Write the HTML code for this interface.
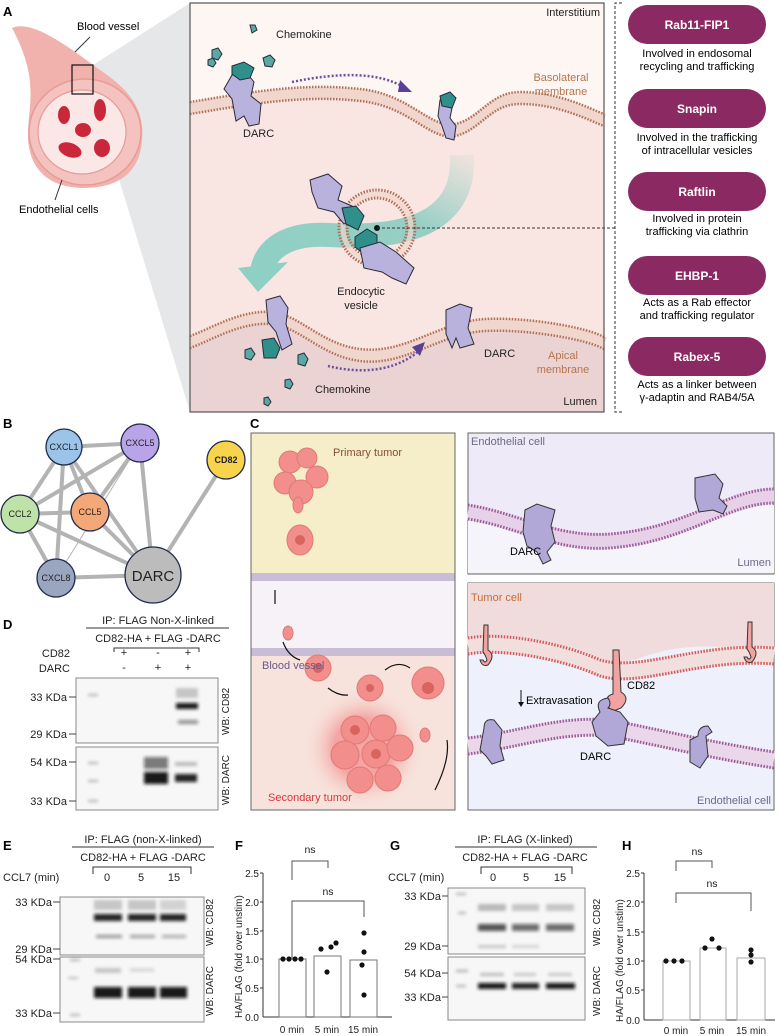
<!DOCTYPE html>
<html><head><meta charset="utf-8"><style>
body{margin:0;background:#fff}
svg{display:block;font-family:"Liberation Sans",sans-serif}
</style></head><body>
<svg width="778" height="1036" viewBox="0 0 778 1036" xmlns="http://www.w3.org/2000/svg">
<defs>
<filter id="bl" x="-20%" y="-100%" width="140%" height="300%"><feGaussianBlur stdDeviation="1.6"/></filter>
<radialGradient id="glow"><stop offset="0.5" stop-color="#f28b8b" stop-opacity="0.7"/><stop offset="1" stop-color="#f7dcd6" stop-opacity="0"/></radialGradient>
<linearGradient id="tg" x1="1" y1="0" x2="0" y2="1"><stop offset="0" stop-color="#7fc9bd" stop-opacity="0.1"/><stop offset="0.4" stop-color="#7fc9bd" stop-opacity="0.8"/><stop offset="1" stop-color="#8fd0c4"/></linearGradient>
</defs>

<!-- ============ PANEL A ============ -->
<text x="3" y="16" font-size="13" font-weight="bold">A</text>
<polygon points="93,65 190,3 190,412 93,94" fill="#e6e7e9"/>
<path d="M12,28 C30,20 60,40 100,70 C130,90 145,110 142,140 C140,175 115,188 84,188 C50,188 28,170 28,135 C28,105 40,80 12,28Z" fill="#f1b2ad"/>
<ellipse cx="85" cy="132" rx="56" ry="53" fill="#f4c3bf" stroke="#e79a96" stroke-width="1.5"/>
<ellipse cx="82" cy="132" rx="44" ry="42" fill="#fbe8e6" stroke="#e79a96" stroke-width="1.2"/>
<g fill="#c9283a">
<ellipse cx="64" cy="115" rx="6" ry="9"/><ellipse cx="100" cy="110" rx="6" ry="11"/><ellipse cx="83" cy="130" rx="8" ry="7"/>
<ellipse cx="70" cy="150" rx="12" ry="7" transform="rotate(20 70 150)"/><ellipse cx="102" cy="148" rx="8" ry="9"/>
</g>
<rect x="72" y="65" width="21" height="29" fill="none" stroke="#111" stroke-width="1.2"/>
<line x1="90" y1="37" x2="75" y2="52" stroke="#333"/>
<text x="77" y="30" font-size="11">Blood vessel</text>
<line x1="62" y1="180" x2="55" y2="200" stroke="#333"/>
<text x="19" y="213" font-size="11">Endothelial cells</text>

<rect x="190" y="3" width="414" height="409" fill="#fdf6f2"/>
<path d="M190,108 C240,100 300,88 360,95 C410,100 430,135 455,130 C480,125 490,98 520,98 C560,98 590,115 604,120 L604,343 C580,330 500,320 470,327 C430,335 400,360 360,355 C320,350 300,320 270,318 C240,316 210,335 190,342Z" fill="#f9e5e1"/>
<path d="M190,342 C210,335 240,316 270,318 C300,320 320,350 360,355 C400,360 430,335 470,327 C500,320 580,330 604,343 L604,412 L190,412Z" fill="#ead3d2"/>
<g fill="none">
<path d="M190,108 C240,100 300,88 360,95 C410,100 430,135 455,130 C480,125 490,98 520,98 C560,98 590,115 604,120" stroke="#f1d6cd" stroke-width="12"/>
<path d="M190,102 C240,94 300,82 360,89 C410,94 430,129 455,124 C480,119 490,92 520,92 C560,92 590,109 604,114" stroke="#b0715a" stroke-width="2.5" stroke-dasharray="1.5 1.5"/>
<path d="M190,114 C240,106 300,94 360,101 C410,106 430,141 455,136 C480,131 490,104 520,104 C560,104 590,121 604,126" stroke="#b0715a" stroke-width="2.5" stroke-dasharray="1.5 1.5"/>
<path d="M190,342 C210,335 240,316 270,318 C300,320 320,350 360,355 C400,360 430,335 470,327 C500,320 580,330 604,343" stroke="#f1d6cd" stroke-width="12"/>
<path d="M190,336 C210,329 240,310 270,312 C300,314 320,344 360,349 C400,354 430,329 470,321 C500,314 580,324 604,337" stroke="#b0715a" stroke-width="2.5" stroke-dasharray="1.5 1.5"/>
<path d="M190,348 C210,341 240,322 270,324 C300,326 320,356 360,361 C400,366 430,341 470,333 C500,326 580,336 604,349" stroke="#b0715a" stroke-width="2.5" stroke-dasharray="1.5 1.5"/>
</g>
<path d="M462,155 C465,215 420,240 330,235 C280,232 262,255 262,275" fill="none" stroke="url(#tg)" stroke-width="24"/>
<polygon points="238,268 288,262 258,292" fill="#8fd0c4"/>
<circle cx="377" cy="228" r="38" fill="none" stroke="#b0715a" stroke-width="3" stroke-dasharray="1.5 1.5"/>
<circle cx="377" cy="228" r="30" fill="none" stroke="#b0715a" stroke-width="3" stroke-dasharray="1.5 1.5"/>
<circle cx="377" cy="228" r="34" fill="none" stroke="#f1d6cd" stroke-width="5" opacity="0.7"/>
<circle cx="377" cy="228" r="3" fill="#111"/>
<line x1="377" y1="228" x2="615" y2="228" stroke="#333" stroke-dasharray="3 2"/>
<g stroke="#2a2a3a" stroke-width="1">
<path d="M232,75 l14,-3 l8,10 l-3,14 l10,8 l-2,20 l-10,2 l-5,-10 l-8,5 l-4,-22 l-8,-10z" fill="#b8b2dc"/>
<path d="M232,66 l12,-4 l10,6 l-4,10 l-10,2 l-8,-6z" fill="#2f8f8a"/>
<path d="M440,100 l8,-2 l4,10 l-2,10 l6,8 l-2,14 l-8,-2 l-4,-12 l-4,-10z" fill="#b8b2dc"/>
<path d="M440,96 l10,-4 l6,6 l-4,10 l-10,-2z" fill="#2f8f8a"/>
<path d="M310,180 l18,-6 l14,12 l-4,14 l14,6 l2,12 l-10,6 l-10,-12 l-16,-4 l-6,-16z" fill="#b8b2dc"/>
<path d="M342,208 l14,-2 l8,10 l-6,14 l-12,-6z" fill="#2f8f8a"/>
<path d="M355,237 l12,-8 l10,6 l0,12 l-14,6 l-8,-6z" fill="#2f8f8a"/>
<path d="M360,248 l20,-6 l16,10 l18,16 l-8,16 l-14,-6 l-10,-6 l-18,-4z" fill="#b8b2dc"/>
<path d="M266,300 l14,-4 l8,12 l-2,16 l6,20 l-10,6 l-6,-18 l-8,-10z" fill="#b8b2dc"/>
<path d="M262,340 l12,-2 l6,10 l-4,10 l-12,0z" fill="#2f8f8a"/>
<path d="M446,310 l14,-6 l12,4 l-4,20 l6,16 l-14,4 l-4,-10 l-4,10 l-6,-14z" fill="#b8b2dc"/>
<path d="M212,50 l6,-2 l4,6 l-4,6 l-6,-2z M208,60 l5,-2 l3,5 l-3,4 l-5,-2z M263,58 l7,-3 l5,5 l-3,7 l-7,-1z M250,25 l5,0 l2,5 l-5,3z" fill="#5aa8a3"/>
<path d="M245,350 l6,-2 l4,6 l-4,6 l-6,-2z M298,355 l6,-2 l4,6 l-3,7 l-7,-2z M285,380 l5,-1 l3,5 l-3,5 l-5,-2z M264,398 l4,-1 l3,5 l-3,4 l-4,-2z" fill="#5aa8a3"/>
</g>
<path d="M292,82 C340,72 380,72 405,88" fill="none" stroke="#6b4fa0" stroke-width="2.5" stroke-dasharray="2 2"/>
<polygon points="400,80 412,92 398,92" fill="#5a3f98"/>
<path d="M328,366 C360,374 395,372 420,350" fill="none" stroke="#6b4fa0" stroke-width="2.5" stroke-dasharray="2 2"/>
<polygon points="412,347 425,342 420,356" fill="#5a3f98"/>
<g font-size="11" fill="#222">
<text x="600" y="16" text-anchor="end">Interstitium</text>
<text x="276" y="38">Chemokine</text>
<text x="243" y="137">DARC</text>
<text x="561" y="81" fill="#b6744f" text-anchor="middle">Basolateral</text>
<text x="561" y="95" fill="#b6744f" text-anchor="middle">membrane</text>
<text x="361" y="295" text-anchor="middle">Endocytic</text>
<text x="361" y="309" text-anchor="middle">vesicle</text>
<text x="484" y="357">DARC</text>
<text x="563" y="359" fill="#b6744f" text-anchor="middle">Apical</text>
<text x="563" y="373" fill="#b6744f" text-anchor="middle">membrane</text>
<text x="315" y="393">Chemokine</text>
<text x="597" y="405" text-anchor="end">Lumen</text>
</g>
<rect x="190" y="3" width="414" height="409" fill="none" stroke="#555" stroke-width="1.2"/>
<path d="M622,3 L615,3 L615,412 L622,412" fill="none" stroke="#333" stroke-dasharray="3 2"/>
<g font-size="11" text-anchor="middle">
<rect x="628" y="5" width="138" height="39" rx="19.5" fill="#8b2a62"/>
<text x="697" y="29" fill="#fff" font-weight="bold" font-size="12">Rab11-FIP1</text>
<text x="697" y="57">Involved in endosomal</text><text x="697" y="70">recycling and trafficking</text>
<rect x="628" y="89" width="138" height="39" rx="19.5" fill="#8b2a62"/>
<text x="697" y="113" fill="#fff" font-weight="bold" font-size="12">Snapin</text>
<text x="697" y="141">Involved in the trafficking</text><text x="697" y="154">of intracellular vesicles</text>
<rect x="628" y="172" width="138" height="39" rx="19.5" fill="#8b2a62"/>
<text x="697" y="196" fill="#fff" font-weight="bold" font-size="12">Raftlin</text>
<text x="697" y="222">Involved in protein</text><text x="697" y="235">trafficking via clathrin</text>
<rect x="628" y="256" width="138" height="39" rx="19.5" fill="#8b2a62"/>
<text x="697" y="280" fill="#fff" font-weight="bold" font-size="12">EHBP-1</text>
<text x="697" y="306">Acts as a Rab effector</text><text x="697" y="319">and trafficking regulator</text>
<rect x="628" y="337" width="138" height="39" rx="19.5" fill="#8b2a62"/>
<text x="697" y="361" fill="#fff" font-weight="bold" font-size="12">Rabex-5</text>
<text x="697" y="388">Acts as a linker between</text><text x="697" y="401">γ-adaptin and RAB4/5A</text>
</g>

<!-- ============ PANEL B ============ -->
<text x="3" y="428" font-size="13" font-weight="bold">B</text>
<g stroke="#b3b3b3" stroke-width="4">
<line x1="64" y1="447" x2="140" y2="443"/><line x1="64" y1="447" x2="20" y2="514"/><line x1="64" y1="447" x2="56" y2="578"/>
<line x1="64" y1="447" x2="153" y2="575"/><line x1="64" y1="447" x2="90" y2="512"/><line x1="140" y1="443" x2="20" y2="514"/>
<line x1="140" y1="443" x2="153" y2="575"/><line x1="140" y1="443" x2="90" y2="512"/><line x1="20" y1="514" x2="90" y2="512"/>
<line x1="20" y1="514" x2="153" y2="575"/><line x1="20" y1="514" x2="56" y2="578"/><line x1="90" y1="512" x2="153" y2="575"/>
<line x1="56" y1="578" x2="153" y2="575"/><line x1="226" y1="460" x2="153" y2="575"/>
<line x1="140" y1="443" x2="56" y2="578" stroke-width="1"/>
</g>
<g stroke="#1f2a4a" stroke-width="1.3">
<circle cx="64" cy="447" r="18" fill="#9cc4e8"/><circle cx="140" cy="443" r="19" fill="#b8a4e6"/>
<circle cx="226" cy="460" r="19" fill="#f8d44c"/><circle cx="20" cy="514" r="19" fill="#bfe2a8"/>
<circle cx="90" cy="512" r="19" fill="#f4a877"/><circle cx="56" cy="578" r="19" fill="#9aa6c0"/>
<circle cx="153" cy="575" r="28" fill="#bcbcbc"/>
</g>
<g font-size="9" text-anchor="middle" fill="#222">
<text x="64" y="450">CXCL1</text><text x="140" y="446">CXCL5</text><text x="226" y="463" font-weight="bold">CD82</text>
<text x="20" y="517">CCL2</text><text x="90" y="515">CCL5</text><text x="56" y="581">CXCL8</text>
<text x="153" y="581" font-size="15">DARC</text>
</g>

<!-- ============ PANEL C ============ -->
<text x="250" y="428" font-size="13" font-weight="bold">C</text>
<rect x="251" y="433" width="204" height="140" fill="#f6eec9"/>
<rect x="251" y="573" width="204" height="82" fill="#f6f2f8"/>
<rect x="251" y="655" width="204" height="155" fill="#f7e3dc"/>
<rect x="251" y="573" width="204" height="8" fill="#c9bdd6"/>
<rect x="251" y="648" width="204" height="8" fill="#c9bdd6"/>
<circle cx="364" cy="748" r="60" fill="url(#glow)"/>
<g fill="#f28f8c" stroke="#e27875" stroke-width="1">
<circle cx="290" cy="462" r="11"/><circle cx="307" cy="458" r="10"/><circle cx="317" cy="477" r="11"/><circle cx="285" cy="483" r="11"/><circle cx="301" cy="492" r="12"/>
<ellipse cx="300" cy="540" rx="13" ry="15"/><circle cx="318" cy="668" r="13"/><circle cx="370" cy="688" r="13"/><circle cx="428" cy="683" r="16"/>
<circle cx="355" cy="730" r="14"/><circle cx="383" cy="728" r="13"/><circle cx="345" cy="755" r="14"/><circle cx="376" cy="754" r="14"/><circle cx="400" cy="748" r="13"/><circle cx="360" cy="780" r="13"/><circle cx="388" cy="778" r="13"/>
<ellipse cx="298" cy="505" rx="5" ry="8"/><ellipse cx="288" cy="633" rx="5" ry="7"/><ellipse cx="425" cy="735" rx="5" ry="7"/>
</g>
<g fill="#d9635f"><circle cx="300" cy="540" r="5"/><circle cx="318" cy="668" r="5"/><circle cx="370" cy="688" r="4"/><circle cx="428" cy="688" r="6"/><circle cx="355" cy="730" r="5"/><circle cx="376" cy="754" r="5"/></g>
<g fill="none" stroke="#111" stroke-width="1.2">
<path d="M275,590 l0,14"/><path d="M283,642 Q288,656 300,660"/><path d="M328,688 Q338,696 348,695"/><path d="M385,670 Q398,660 410,668"/><path d="M447,740 Q450,760 435,790"/>
</g>
<g font-size="11">
<text x="333" y="456" fill="#8a4a3a">Primary tumor</text>
<text x="262" y="669" fill="#6a5a8a">Blood vessel</text>
<text x="268" y="801" fill="#d9363a">Secondary tumor</text>
</g>
<rect x="251" y="433" width="204" height="377" fill="none" stroke="#666" stroke-width="1"/>

<rect x="468" y="433" width="306" height="141" fill="#efeaf7" stroke="#666"/>
<path d="M468,520 C520,528 560,555 620,548 C690,540 730,505 774,505 L774,573 L468,573Z" fill="#f6f4fb"/>
<path d="M468,512 C520,520 560,548 620,540 C690,532 730,496 774,496" fill="none" stroke="#e7d1e9" stroke-width="16"/>
<path d="M468,505 C520,513 560,541 620,533 C690,525 730,489 774,489" fill="none" stroke="#9a5a98" stroke-width="3" stroke-dasharray="1.5 1.5"/>
<path d="M468,519 C520,527 560,555 620,547 C690,539 730,503 774,503" fill="none" stroke="#9a5a98" stroke-width="3" stroke-dasharray="1.5 1.5"/>
<g fill="#b1a8d8" stroke="#333">
<path d="M525,510 l12,-6 l18,6 l-4,16 l4,16 l-8,10 l4,8 l-8,4 l-6,-12 l-10,-6 l-4,-14z"/>
<path d="M695,478 l20,-4 l8,10 l-4,14 l8,8 l-4,8 l-10,-4 l-14,2 l-4,-14z"/>
</g>
<text x="471" y="445" font-size="11" fill="#6a6a8a">Endothelial cell</text>
<text x="510" y="555" font-size="11">DARC</text>
<text x="771" y="566" font-size="11" fill="#6a6a8a" text-anchor="end">Lumen</text>

<rect x="468" y="583" width="306" height="227" fill="#eef0fb" stroke="#666"/>
<path d="M468,583 L774,583 L774,650 C720,648 690,640 640,658 C600,672 560,650 520,642 C500,640 480,640 468,640Z" fill="#f0dcdc"/>
<path d="M468,646 C500,640 560,650 600,668 C640,680 700,650 774,656" fill="none" stroke="#f3dede" stroke-width="18"/>
<path d="M468,638 C500,632 560,642 600,660 C640,672 700,642 774,648" fill="none" stroke="#d25a5a" stroke-width="3" stroke-dasharray="1.5 1.5"/>
<path d="M468,654 C500,648 560,658 600,676 C640,688 700,658 774,664" fill="none" stroke="#d25a5a" stroke-width="3" stroke-dasharray="1.5 1.5"/>
<path d="M468,746 C520,740 570,720 620,730 C670,740 710,750 774,760" fill="none" stroke="#ead8ea" stroke-width="18"/>
<path d="M468,738 C520,732 570,712 620,722 C670,732 710,742 774,752" fill="none" stroke="#9a5a98" stroke-width="3" stroke-dasharray="1.5 1.5"/>
<path d="M468,754 C520,748 570,728 620,738 C670,748 710,758 774,768" fill="none" stroke="#9a5a98" stroke-width="3" stroke-dasharray="1.5 1.5"/>
<g fill="#f0a3a0" stroke="#333">
<path d="M484,625 l4,0 l0,25 q8,5 0,15 q-6,2 -8,-5 l3,0 q2,4 4,0 q-2,-6 -4,-8z"/>
<path d="M748,622 l4,0 l0,25 q8,5 0,15 q-6,2 -8,-5 l3,0 q2,4 4,0 q-2,-6 -4,-8z"/>
<path d="M613,650 l6,0 l2,42 q10,6 0,16 l-10,4 l-4,-8 q-2,-8 6,-10z"/>
</g>
<g fill="#b1a8d8" stroke="#333">
<path d="M600,712 q-6,-12 8,-14 q4,6 0,10 l12,4 l8,10 l-4,22 l-16,2 l-12,-10 l-4,-14z"/>
<path d="M484,728 q0,-10 10,-8 l8,10 l-2,16 l4,14 l-12,4 l-6,-8 l-6,-6z"/>
<path d="M690,740 l8,-4 q0,-10 10,-10 l4,6 l-6,4 l2,20 l-8,12 l-10,-6z"/>
</g>
<text x="471" y="601" font-size="11" fill="#c66b3a">Tumor cell</text>
<text x="627" y="689" font-size="11">CD82</text>
<path d="M521,690 l0,14" stroke="#111"/><polygon points="518,702 524,702 521,707" fill="#111"/>
<text x="526" y="704" font-size="11">Extravasation</text>
<text x="580" y="760" font-size="11">DARC</text>
<text x="771" y="804" font-size="11" fill="#6a6a8a" text-anchor="end">Endothelial cell</text>

<!-- ============ PANEL D ============ -->
<text x="3" y="629" font-size="13" font-weight="bold">D</text>
<g font-size="11" fill="#222">
<text x="158" y="624" text-anchor="middle">IP: FLAG Non-X-linked</text>
<line x1="86" y1="628" x2="229" y2="628" stroke="#333"/>
<text x="158" y="642" text-anchor="middle">CD82-HA + FLAG -DARC</text>
<path d="M114,652 l0,-4 l85,0 l0,4" fill="none" stroke="#333"/>
<text x="70" y="657" text-anchor="end">CD82</text><text x="70" y="672" text-anchor="end">DARC</text>
<g text-anchor="middle"><text x="124" y="656">+</text><text x="158" y="656">-</text><text x="188" y="656">+</text>
<text x="124" y="671">-</text><text x="158" y="671">+</text><text x="188" y="671">+</text></g>
<text x="67" y="701" text-anchor="end">33 KDa</text><text x="67" y="738" text-anchor="end">29 KDa</text>
<text x="67" y="766" text-anchor="end">54 KDa</text><text x="67" y="805" text-anchor="end">33 KDa</text>
<text transform="translate(229,735) rotate(-90)" font-size="10">WB: CD82</text>
<text transform="translate(229,805) rotate(-90)" font-size="10">WB: DARC</text>
</g>
<rect x="76" y="678" width="142" height="65" fill="#f7f7f7" stroke="#888"/>
<rect x="76" y="747" width="142" height="63" fill="#f7f7f7" stroke="#888"/>
<g stroke="#444" stroke-width="1"><line x1="69" y1="697" x2="76" y2="697"/><line x1="69" y1="734" x2="76" y2="734"/><line x1="69" y1="762" x2="76" y2="762"/><line x1="69" y1="801" x2="76" y2="801"/></g>
<g filter="url(#bl)" fill="#111">
<rect x="176" y="703" width="22" height="6" opacity="0.95"/><rect x="176" y="688" width="22" height="10" opacity="0.2"/><rect x="178" y="720" width="20" height="4" opacity="0.45"/>
<rect x="144" y="772" width="24" height="12" opacity="0.95"/><rect x="144" y="757" width="24" height="12" opacity="0.55"/>
<rect x="175" y="774" width="22" height="8" opacity="0.9"/><rect x="175" y="762" width="22" height="4" opacity="0.25"/>
<rect x="88" y="694" width="10" height="2" opacity="0.3"/><rect x="88" y="762" width="10" height="2" opacity="0.3"/><rect x="88" y="780" width="10" height="2" opacity="0.3"/><rect x="88" y="800" width="10" height="2" opacity="0.3"/>
</g>

<!-- ============ PANEL E ============ -->
<text x="3" y="850" font-size="13" font-weight="bold">E</text>
<g font-size="11" fill="#222">
<text x="143" y="843" text-anchor="middle">IP: FLAG (non-X-linked)</text>
<line x1="72" y1="847" x2="214" y2="847" stroke="#333"/>
<text x="143" y="861" text-anchor="middle">CD82-HA + FLAG -DARC</text>
<path d="M93,874 l0,-7 l98,0 l0,7" fill="none" stroke="#333"/>
<text x="3" y="881">CCL7 (min)</text>
<g text-anchor="middle"><text x="107" y="881">0</text><text x="141" y="881">5</text><text x="174" y="881">15</text></g>
<text x="52" y="906" text-anchor="end">33 KDa</text><text x="52" y="953" text-anchor="end">29 KDa</text>
<text x="52" y="963" text-anchor="end">54 KDa</text><text x="52" y="1017" text-anchor="end">33 KDa</text>
<text transform="translate(213,946) rotate(-90)" font-size="10">WB: CD82</text>
<text transform="translate(213,1016) rotate(-90)" font-size="10">WB: DARC</text>
</g>
<rect x="60" y="897" width="144" height="58" fill="#f7f7f7" stroke="#888"/>
<rect x="60" y="957" width="144" height="65" fill="#f7f7f7" stroke="#888"/>
<g stroke="#444"><line x1="53" y1="902" x2="60" y2="902"/><line x1="53" y1="949" x2="60" y2="949"/><line x1="53" y1="959" x2="60" y2="959"/><line x1="53" y1="1013" x2="60" y2="1013"/></g>
<g filter="url(#bl)" fill="#111">
<rect x="94" y="914" width="28" height="7" opacity="0.9"/><rect x="128" y="914" width="28" height="7" opacity="0.9"/><rect x="160" y="914" width="26" height="7" opacity="0.9"/>
<rect x="94" y="900" width="28" height="10" opacity="0.2"/><rect x="128" y="900" width="28" height="10" opacity="0.2"/><rect x="160" y="900" width="26" height="10" opacity="0.15"/>
<rect x="96" y="935" width="26" height="3" opacity="0.45"/><rect x="130" y="935" width="25" height="3" opacity="0.4"/><rect x="162" y="935" width="24" height="3" opacity="0.35"/>
<rect x="94" y="987" width="28" height="11" opacity="0.95"/><rect x="128" y="987" width="28" height="11" opacity="0.95"/><rect x="160" y="987" width="27" height="11" opacity="0.95"/>
<rect x="95" y="968" width="26" height="5" opacity="0.2"/><rect x="130" y="968" width="24" height="4" opacity="0.12"/>
<rect x="70" y="959" width="10" height="2" opacity="0.3"/><rect x="68" y="977" width="10" height="2" opacity="0.25"/><rect x="70" y="1014" width="10" height="2" opacity="0.3"/>
</g>

<!-- ============ PANEL F ============ -->
<text x="235" y="850" font-size="13" font-weight="bold">F</text>
<g font-size="10" fill="#222">
<line x1="263" y1="873" x2="263" y2="1017" stroke="#333"/><line x1="263" y1="1017" x2="392" y2="1017" stroke="#333"/>
<g text-anchor="end"><text x="259" y="877">2.5</text><text x="259" y="906">2.0</text><text x="259" y="935">1.5</text><text x="259" y="963">1.0</text><text x="259" y="992">0.5</text><text x="259" y="1021">0.0</text></g>
<g stroke="#333"><line x1="260" y1="873" x2="263" y2="873"/><line x1="260" y1="902" x2="263" y2="902"/><line x1="260" y1="931" x2="263" y2="931"/><line x1="260" y1="959" x2="263" y2="959"/><line x1="260" y1="988" x2="263" y2="988"/></g>
<text transform="translate(242,1018) rotate(-90)" font-size="10">HA/FLAG (fold over unstim)</text>
<g fill="#fff" stroke="#777"><rect x="279" y="959" width="27" height="58"/><rect x="314" y="956" width="27" height="61"/><rect x="350" y="960" width="27" height="57"/></g>
<g fill="#111"><circle cx="283" cy="959" r="2.6"/><circle cx="289" cy="959" r="2.6"/><circle cx="295" cy="959" r="2.6"/><circle cx="301" cy="959" r="2.6"/>
<circle cx="321" cy="949" r="2.6"/><circle cx="331" cy="947" r="2.6"/><circle cx="336" cy="943" r="2.6"/><circle cx="327" cy="972" r="2.6"/>
<circle cx="364" cy="933" r="2.6"/><circle cx="364" cy="952" r="2.6"/><circle cx="362" cy="965" r="2.6"/><circle cx="364" cy="995" r="2.6"/></g>
<path d="M292,880 l0,-19 l36,0 l0,7 M292,930 l0,-29 l72,0 l0,16" fill="none" stroke="#555"/>
<path d="M292,958 l0,-30" fill="none" stroke="#555"/>
<text x="310" y="853" text-anchor="middle" font-size="10.5">ns</text><text x="328" y="895" text-anchor="middle" font-size="10.5">ns</text>
<g text-anchor="middle"><text x="292" y="1033">0 min</text><text x="327" y="1033">5 min</text><text x="363" y="1033">15 min</text></g>
</g>

<!-- ============ PANEL G ============ -->
<text x="390" y="850" font-size="13" font-weight="bold">G</text>
<g font-size="11" fill="#222">
<text x="525" y="843" text-anchor="middle">IP: FLAG (X-linked)</text>
<line x1="455" y1="847" x2="597" y2="847" stroke="#333"/>
<text x="525" y="861" text-anchor="middle">CD82-HA + FLAG -DARC</text>
<path d="M481,874 l0,-7 l91,0 l0,7" fill="none" stroke="#333"/>
<text x="388" y="881">CCL7 (min)</text>
<g text-anchor="middle"><text x="493" y="881">0</text><text x="526" y="881">5</text><text x="560" y="881">15</text></g>
<text x="441" y="900" text-anchor="end">33 KDa</text><text x="441" y="950" text-anchor="end">29 KDa</text>
<text x="441" y="977" text-anchor="end">54 KDa</text><text x="441" y="1001" text-anchor="end">33 KDa</text>
<text transform="translate(600,946) rotate(-90)" font-size="10">WB: CD82</text>
<text transform="translate(600,1016) rotate(-90)" font-size="10">WB: DARC</text>
</g>
<rect x="448" y="888" width="137" height="66" fill="#f7f7f7" stroke="#888"/>
<rect x="448" y="957" width="137" height="63" fill="#f7f7f7" stroke="#888"/>
<g stroke="#444"><line x1="442" y1="896" x2="448" y2="896"/><line x1="442" y1="946" x2="448" y2="946"/><line x1="442" y1="973" x2="448" y2="973"/><line x1="442" y1="997" x2="448" y2="997"/></g>
<g filter="url(#bl)" fill="#111">
<rect x="478" y="924" width="28" height="7" opacity="0.7"/><rect x="512" y="924" width="27" height="7" opacity="0.6"/><rect x="546" y="924" width="28" height="7" opacity="0.6"/>
<rect x="478" y="904" width="28" height="7" opacity="0.25"/><rect x="512" y="904" width="27" height="7" opacity="0.2"/><rect x="546" y="904" width="28" height="7" opacity="0.2"/>
<rect x="478" y="945" width="28" height="3" opacity="0.2"/><rect x="512" y="945" width="27" height="3" opacity="0.15"/>
<rect x="478" y="983" width="28" height="6" opacity="0.95"/><rect x="512" y="983" width="27" height="6" opacity="0.9"/><rect x="546" y="983" width="29" height="6" opacity="0.95"/>
<rect x="480" y="973" width="24" height="3" opacity="0.25"/><rect x="514" y="973" width="22" height="3" opacity="0.2"/><rect x="548" y="973" width="24" height="3" opacity="0.2"/>
<rect x="456" y="893" width="10" height="2" opacity="0.3"/><rect x="458" y="912" width="8" height="2" opacity="0.3"/><rect x="456" y="970" width="12" height="2" opacity="0.35"/><rect x="456" y="985" width="10" height="2" opacity="0.3"/>
</g>

<!-- ============ PANEL H ============ -->
<text x="622" y="850" font-size="13" font-weight="bold">H</text>
<g font-size="10" fill="#222">
<line x1="644" y1="873" x2="644" y2="1020" stroke="#333"/><line x1="644" y1="1020" x2="775" y2="1020" stroke="#333"/>
<g text-anchor="end"><text x="640" y="877">2.5</text><text x="640" y="907">2.0</text><text x="640" y="936">1.5</text><text x="640" y="965">1.0</text><text x="640" y="994">0.5</text><text x="640" y="1024">0.0</text></g>
<g stroke="#333"><line x1="641" y1="873" x2="644" y2="873"/><line x1="641" y1="902" x2="644" y2="902"/><line x1="641" y1="932" x2="644" y2="932"/><line x1="641" y1="961" x2="644" y2="961"/><line x1="641" y1="990" x2="644" y2="990"/></g>
<text transform="translate(623,1022) rotate(-90)" font-size="10">HA/FLAG (fold over unstim)</text>
<g fill="#fff" stroke="#aaa"><rect x="663" y="961" width="27" height="59"/><rect x="700" y="948" width="26" height="72"/><rect x="737" y="958" width="28" height="62"/></g>
<g fill="#111"><circle cx="666" cy="961" r="2.6"/><circle cx="674" cy="961" r="2.6"/><circle cx="682" cy="961" r="2.6"/>
<circle cx="712" cy="939" r="2.6"/><circle cx="705" cy="948" r="2.6"/><circle cx="719" cy="948" r="2.6"/>
<circle cx="751" cy="950" r="2.6"/><circle cx="751" cy="955" r="2.6"/><circle cx="751" cy="962" r="2.6"/></g>
<path d="M676,871 l0,-10 l36,0 l0,7 M676,903 l0,-10 l75,0 l0,18" fill="none" stroke="#555"/>
<text x="697" y="855" text-anchor="middle" font-size="10.5">ns</text><text x="712" y="887" text-anchor="middle" font-size="10.5">ns</text>
<g text-anchor="middle"><text x="676" y="1034">0 min</text><text x="712" y="1034">5 min</text><text x="751" y="1034">15 min</text></g>
</g>
</svg>
</body></html>
